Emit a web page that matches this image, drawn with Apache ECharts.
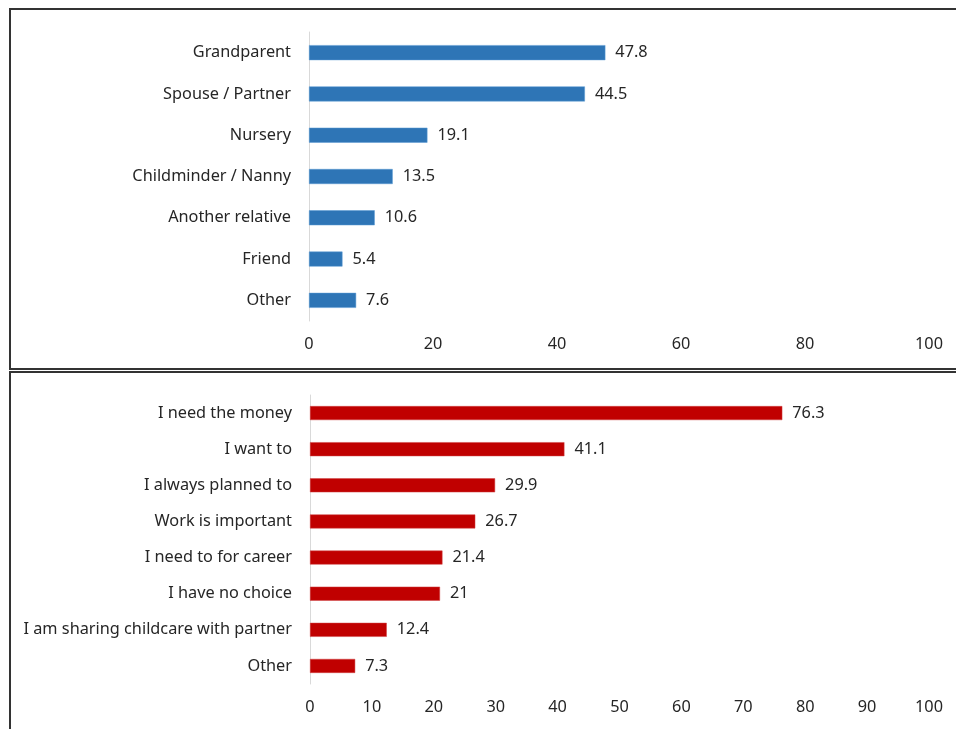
<!DOCTYPE html>
<html><head><meta charset="utf-8">
<script src="https://cdn.jsdelivr.net/npm/echarts@6/dist/echarts.min.js"></script>
<style>html,body{margin:0;padding:0;background:#fff}#c{width:956px;height:729px}</style>
</head><body><div id="c"></div>
<script>
var topCats = ['Grandparent','Spouse / Partner','Nursery','Childminder / Nanny','Another relative','Friend','Other'];
var topVals = [47.8, 44.5, 19.1, 13.5, 10.6, 5.4, 7.6];
var botCats = ['I need the money','I want to','I always planned to','Work is important','I need to for career','I have no choice','I am sharing childcare with partner','Other'];
var botVals = [76.3, 41.1, 29.9, 26.7, 21.4, 21, 12.4, 7.3];

var FONT = 'Noto Sans';
var FS = 16.3;
var TXT = '#262626';
var chart = echarts.init(document.getElementById('c'), null, {renderer:'canvas'});
function xAx(idx, interval){
  return {type:'value', gridIndex:idx, min:0, max:100, interval:interval,
    axisLine:{show:false}, axisTick:{show:false}, splitLine:{show:false},
    axisLabel:{color:TXT, fontFamily:FONT, fontSize:FS, margin:15}};
}
function yAx(idx, cats){
  return {type:'category', gridIndex:idx, data:cats.slice().reverse(),
    axisLine:{show:true, lineStyle:{color:'#D9D9D9', width:1}}, axisTick:{show:false},
    axisLabel:{color:TXT, fontFamily:FONT, fontSize:FS, margin:18}};
}
chart.setOption({
  animation:false,
  grid:[{left:309, right:27, top:32, height:289, containLabel:false},
        {left:310, right:27, top:395, height:289, containLabel:false}],
  xAxis:[xAx(0,20), xAx(1,10)],
  yAxis:[yAx(0,topCats), yAx(1,botCats)],
  series:[
    {type:'bar', xAxisIndex:0, yAxisIndex:0, data:topVals.slice().reverse(), barWidth:15,
     itemStyle:{color:'#2E75B6', borderColor:'#5B9BD5', borderWidth:0.5},
     label:{show:true, position:'right', distance:10, color:TXT, fontFamily:FONT, fontSize:FS}},
    {type:'bar', xAxisIndex:1, yAxisIndex:1, data:botVals.slice().reverse(), barWidth:14,
     itemStyle:{color:'#C00000', borderColor:'#D04040', borderWidth:0.5},
     label:{show:true, position:'right', distance:10, color:TXT, fontFamily:FONT, fontSize:FS}}
  ],
  graphic:[
    {type:'rect', shape:{x:10, y:9, width:970, height:360}, style:{fill:null, stroke:'#333', lineWidth:2}},
    {type:'rect', shape:{x:10, y:372, width:970, height:380}, style:{fill:null, stroke:'#333', lineWidth:2}}
  ]
});
</script></body></html>
